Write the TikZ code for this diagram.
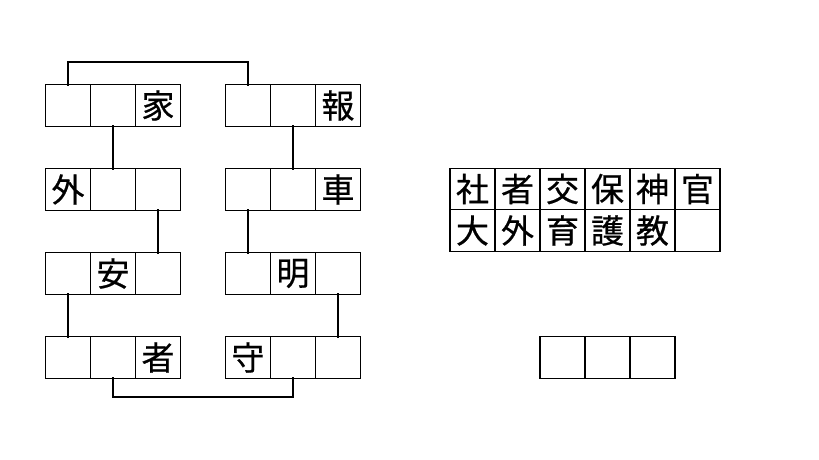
\documentclass[tikz,border=0pt]{standalone}
\usepackage{fontspec}
\newfontfamily\jpfont[FakeBold=0.6]{Noto Sans CJK JP}
\usetikzlibrary{positioning}

\begin{document}
\begin{tikzpicture}[x=1pt,y=-1pt]
\tikzset{
  cell/.style={rectangle,draw=black,line width=1.2pt,minimum width=45pt,minimum height=41.5pt,inner sep=0pt,outer sep=0pt,font=\jpfont\fontsize{33}{33}\selectfont},
  link/.style={draw=black,line width=1.8pt,line cap=rect}
}
\useasboundingbox (0,0) rectangle (819,460);
% left pairs of words
\node[cell] (n_l11) at (68,105.5) {};
\node[cell] (n_l12) at (113,105.5) {};
\node[cell] (n_l13) at (158,105.5) {家};
\node[cell] (n_r11) at (248,105.5) {};
\node[cell] (n_r12) at (293,105.5) {};
\node[cell] (n_r13) at (338,105.5) {報};
\node[cell] (n_l21) at (68,189.5) {外};
\node[cell] (n_l22) at (113,189.5) {};
\node[cell] (n_l23) at (158,189.5) {};
\node[cell] (n_r21) at (248,189.5) {};
\node[cell] (n_r22) at (293,189.5) {};
\node[cell] (n_r23) at (338,189.5) {車};
\node[cell] (n_l31) at (68,273.5) {};
\node[cell] (n_l32) at (113,273.5) {安};
\node[cell] (n_l33) at (158,273.5) {};
\node[cell] (n_r31) at (248,273.5) {};
\node[cell] (n_r32) at (293,273.5) {明};
\node[cell] (n_r33) at (338,273.5) {};
\node[cell] (n_l41) at (68,357.5) {};
\node[cell] (n_l42) at (113,357.5) {};
\node[cell] (n_l43) at (158,357.5) {者};
\node[cell] (n_r41) at (248,357.5) {守};
\node[cell] (n_r42) at (293,357.5) {};
\node[cell] (n_r43) at (338,357.5) {};
% candidate characters
\node[cell] (n_t11) at (472.5,189) {社};
\node[cell] (n_t12) at (517.5,189) {者};
\node[cell] (n_t13) at (562.5,189) {交};
\node[cell] (n_t14) at (607.5,189) {保};
\node[cell] (n_t15) at (652.5,189) {神};
\node[cell] (n_t16) at (697.5,189) {官};
\node[cell] (n_t21) at (472.5,230.5) {大};
\node[cell] (n_t22) at (517.5,230.5) {外};
\node[cell] (n_t23) at (562.5,230.5) {育};
\node[cell] (n_t24) at (607.5,230.5) {護};
\node[cell] (n_t25) at (652.5,230.5) {教};
\node[cell] (n_t26) at (697.5,230.5) {};
% answer
\node[cell] (n_a1) at (562.5,357.5) {};
\node[cell] (n_a2) at (607.5,357.5) {};
\node[cell] (n_a3) at (652.5,357.5) {};
% links
\draw[link] (n_l11.north) -- ++(0,-22.5) -| (n_r11.north);
\draw[link] (n_l12.south) -- (n_l22.north);
\draw[link] (n_r12.south) -- (n_r22.north);
\draw[link] (n_l23.south) -- (n_l33.north);
\draw[link] (n_r21.south) -- (n_r31.north);
\draw[link] (n_l31.south) -- (n_l41.north);
\draw[link] (n_r33.south) -- (n_r43.north);
\draw[link] (n_l42.south) -- ++(0,18.5) -| (n_r42.south);
\end{tikzpicture}
\end{document}
